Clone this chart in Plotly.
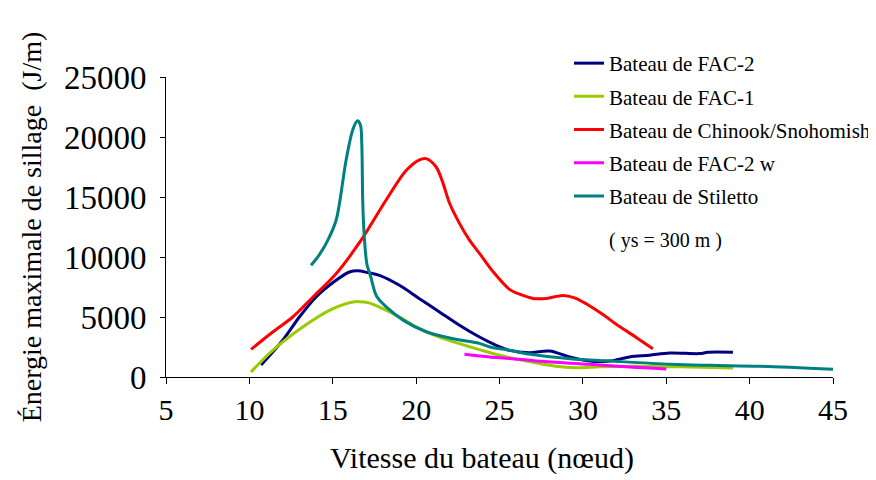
import plotly.graph_objects as go

# ---- data ----
fac2_x = [10.7, 12.0, 13.0, 14.0, 15.2, 16.0, 16.5, 17.1, 17.8, 19.0, 20.2, 21.4, 22.6, 23.8, 24.8,
          25.6, 26.8, 28.0, 29.2, 30.4, 31.6, 32.8, 34.0, 35.2, 37.0, 37.5, 39.0]
fac2_y = [1000, 3060, 5000, 6670, 8060, 8750, 8850, 8700, 8470, 7640, 6530, 5420, 4310, 3330, 2640,
          2220, 2030, 2170, 1670, 1330, 1330, 1670, 1810, 2000, 1950, 2060, 2060]

fac1_x = [10.1, 11.4, 13.2, 14.8, 16.2, 16.6, 17.1, 17.8, 19.0, 20.2, 21.4, 22.6, 23.8, 25.0,
          26.4, 28.4, 29.6, 31.0, 33.0, 35.8, 39.0]
fac1_y = [420, 2220, 4170, 5560, 6250, 6280, 6200, 5830, 5000, 4030, 3330, 2780, 2280, 1810,
          1390, 890, 780, 850, 900, 850, 750]

chin_x = [10.1, 11.4, 12.6, 13.8, 15.2, 16.7, 18.2, 19.4, 20.2, 20.6, 21.2, 21.6, 22.0, 22.6,
          23.2, 23.8, 24.6, 25.6, 26.2, 27.0, 27.8, 28.8, 29.5, 30.2, 31.2, 32.2, 33.2, 34.2]
chin_y = [2300, 3750, 5000, 6650, 8600, 11400, 14750, 17200, 18100, 18200, 17500, 16200, 14500, 12800,
          11400, 10300, 8800, 7300, 6900, 6550, 6550, 6800, 6600, 6100, 5200, 4200, 3300, 2350]

fac2w_x = [22.9, 24.4, 25.6, 27.4, 30.4, 32.8, 35.0]
fac2w_y = [1890, 1670, 1550, 1310, 1060, 830, 670]

stil_x = [13.7, 14.2, 14.7, 15.2, 15.8, 16.2, 16.48, 16.66, 16.74, 16.8, 16.9, 17.05, 17.25, 17.64,
          18.24, 19.24, 20.64, 22.24, 23.84, 24.44, 25.64, 26.84, 29.24, 31.64, 35.24, 37.64, 40.64, 45.0]
stil_y = [9310, 10200, 11390, 13060, 18060, 20600, 21350, 21000, 19500, 14500, 11500, 9400, 8500, 6700,
          5800, 4720, 3750, 3190, 2780, 2500, 2220, 1890, 1530, 1330, 1060, 970, 890, 640]

series_names = ["Bateau de FAC-2", "Bateau de FAC-1", "Bateau de Chinook/Snohomish",
                "Bateau de FAC-2 w", "Bateau de Stiletto"]
series_colors = ["#000080", "#99CC00", "#FF0000", "#FF00FF", "#008080"]

x_ticks = [5, 10, 15, 20, 25, 30, 35, 40, 45]
x_ticktext = ["5", "10", "15", "20", "25", "30", "35", "40", "45"]
y_ticks = [0, 5000, 10000, 15000, 20000, 25000]
y_ticktext = ["0", "5000", "10000", "15000", "20000", "25000"]

FONT = "Liberation Serif, Times New Roman, serif"

# The page body has an 8 px margin, so the figure is drawn 8 px smaller
# and every pixel position below is the window position minus 8.
W, H = 868, 472
L, R, T, B = 158, 43, 69, 103
PW, PH = W - L - R, H - T - B

fig = go.Figure()
data = [(fac2_x, fac2_y), (fac1_x, fac1_y), (chin_x, chin_y), (fac2w_x, fac2w_y), (stil_x, stil_y)]
legend_ids = ["legend", "legend2", "legend3", "legend4", "legend5"]
for (xs, ys), name, col, lg in zip(data, series_names, series_colors, legend_ids):
    fig.add_trace(go.Scatter(x=xs, y=ys, mode="lines", name=name, legend=lg,
                             line=dict(color=col, width=3, shape="spline", smoothing=0.9)))

# one legend box per entry so the row spacing matches the reference
legend_layout = {}
for i, lg in enumerate(legend_ids):
    top = 35 + 33.2 * i
    legend_layout[lg] = dict(xref="container", yref="container", x=561 / W, y=1 - top / H,
                             xanchor="left", yanchor="top",
                             font=dict(family=FONT, size=21, color="black"),
                             bgcolor="rgba(0,0,0,0)", itemwidth=30)

fig.add_annotation(x=(657 - L) / PW, y=(H - B - 232) / PH, xref="paper", yref="paper",
                   xanchor="center", yanchor="middle",
                   text="( ys = 300 m )", showarrow=False,
                   font=dict(family=FONT, size=20, color="black"))

# x-axis title, centred where the reference puts it
fig.add_annotation(x=(474 - L) / PW, y=(H - B - 450) / PH, xref="paper", yref="paper",
                   xanchor="center", yanchor="middle",
                   text="Vitesse du bateau (nœud)", showarrow=False,
                   font=dict(family=FONT, size=30, color="black"))

fig.update_layout(
    width=W, height=H,
    margin=dict(l=L, r=R, t=T, b=B, autoexpand=False),
    paper_bgcolor="white", plot_bgcolor="white",
    font=dict(family=FONT, color="black"),
    showlegend=True,
    **legend_layout,
    xaxis=dict(range=[5, 45], tickvals=x_ticks, ticktext=x_ticktext, automargin=False,
               showgrid=False, zeroline=False, showline=True, linecolor="black", linewidth=1,
               ticks="outside", ticklen=6, tickcolor="black",
               tickfont=dict(family=FONT, size=30, color="black")),
    yaxis=dict(range=[0, 25000], tickvals=y_ticks, ticktext=y_ticktext, automargin=False,
               showgrid=False, zeroline=False, showline=True, linecolor="black", linewidth=1,
               ticks="outside", ticklen=5, tickcolor="black", ticklabelstandoff=7,
               tickfont=dict(family=FONT, size=33, color="black"),
               title=dict(text="Énergie maximale de sillage\u00a0\u00a0(J/m)",
                          font=dict(family=FONT, size=28, color="black"), standoff=14)),
)

fig.write_html("out.html")
